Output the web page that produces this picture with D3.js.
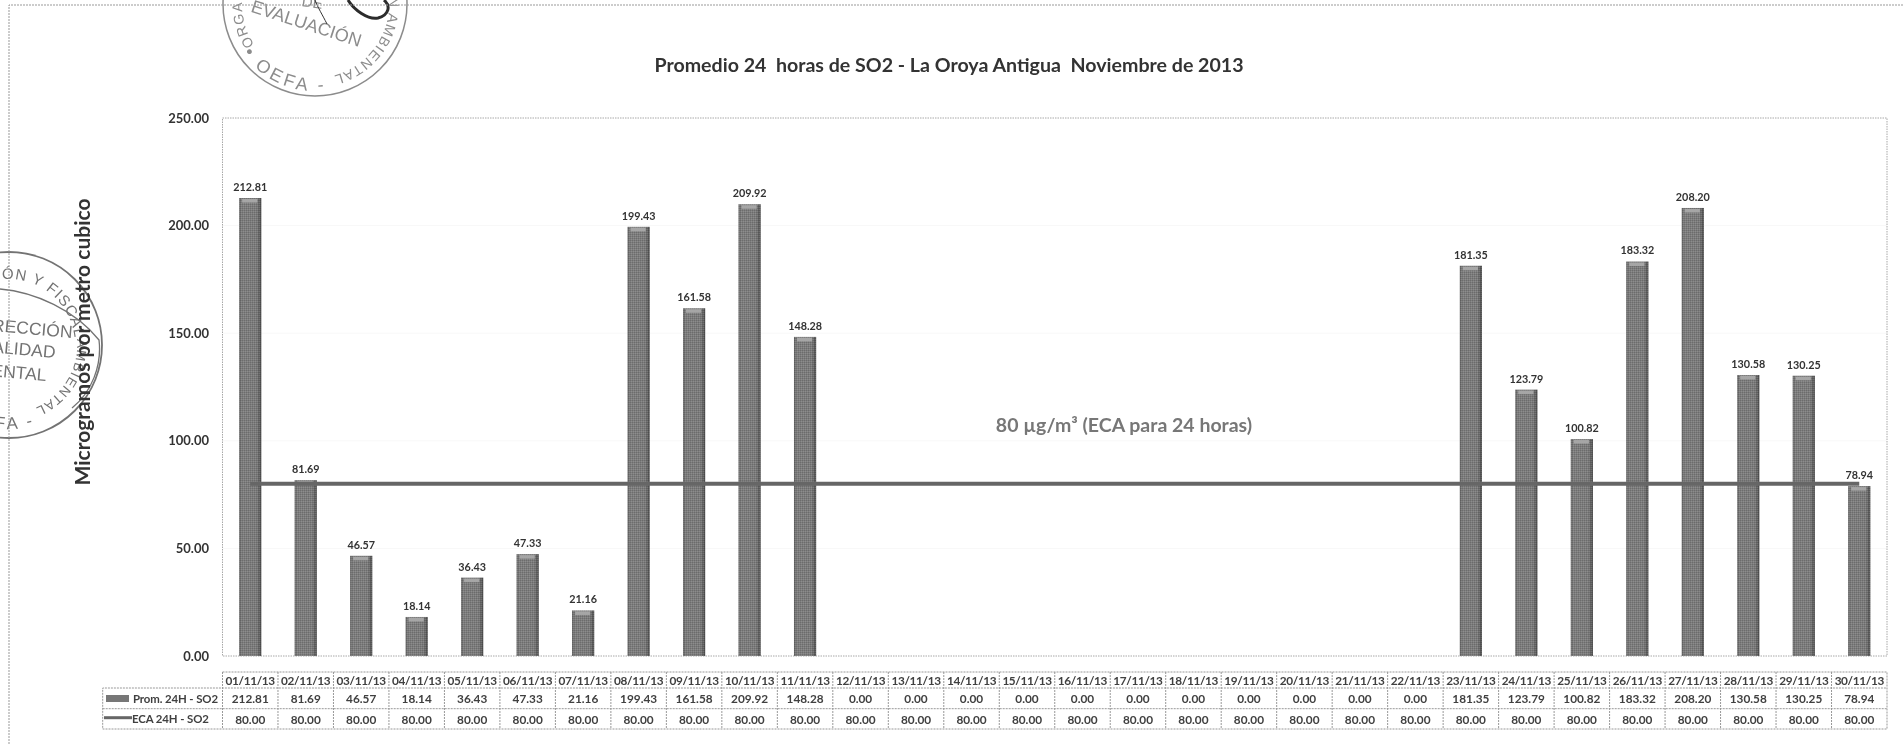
<!DOCTYPE html>
<html>
<head>
<meta charset="utf-8">
<script src="https://cdnjs.cloudflare.com/ajax/libs/d3/7.8.5/d3.min.js"></script>
<style>
  html, body { margin: 0; padding: 0; background: #fff; overflow: hidden; }
  svg { display: block; font-family: Lato, sans-serif; filter: blur(0.35px); }
</style>
</head>
<body>
<svg id="chart" width="1903" height="744"></svg>
<script>
// chart values
const dates = ["01/11/13","02/11/13","03/11/13","04/11/13","05/11/13","06/11/13","07/11/13","08/11/13","09/11/13","10/11/13",
    "11/11/13","12/11/13","13/11/13","14/11/13","15/11/13","16/11/13","17/11/13","18/11/13","19/11/13","20/11/13",
    "21/11/13","22/11/13","23/11/13","24/11/13","25/11/13","26/11/13","27/11/13","28/11/13","29/11/13","30/11/13"];
const prom_so2 = [212.81,81.69,46.57,18.14,36.43,47.33,21.16,199.43,161.58,209.92,
    148.28,0,0,0,0,0,0,0,0,0,
    0,0,181.35,123.79,100.82,183.32,208.20,130.58,130.25,78.94];
const eca_so2 = [80,80,80,80,80,80,80,80,80,80,80,80,80,80,80,80,80,80,80,80,80,80,80,80,80,80,80,80,80,80];
const y_ticks = [0,50,100,150,200,250];

const title_text = "Promedio 24  horas de SO2 - La Oroya Antigua  Noviembre de 2013";
const y_title = "Microgramos por metro cubico";
const eca_note = "80 µg/m³ (ECA para 24 horas)";
const prom_label = "Prom. 24H - SO2";
const eca_label = "ECA 24H - SO2";

// colors
const text_dark = "#333333";
const grid_grey = "#a8a8a8";
const bar_grey = "#777777";
const line_grey = "#666666";
const table_text = "#404040";

const svg = d3.select("#chart");
const margins = {top: 118, right: 1887, bottom: 656, left: 222.5};

// bars are 22px wide in a 55.5px column
const xScale = d3.scaleBand().domain(dates).range([margins.left, margins.right])
    .paddingInner(0.6).paddingOuter(0.3);
const yScale = d3.scaleLinear().domain([0, 250]).range([margins.bottom, margins.top]);
const center = d => xScale(d) + xScale.bandwidth() / 2;
const col_width = xScale.step();

// gradient and stipple for the scanned 3d bars
const defs = svg.append("defs");
const gradient = defs.append("linearGradient").attr("id", "bar-fill");
gradient.append("stop").attr("offset", "0").attr("stop-color", "#666");
gradient.append("stop").attr("offset", "0.12").attr("stop-color", "#7d7d7d");
gradient.append("stop").attr("offset", "0.8").attr("stop-color", "#7b7b7b");
gradient.append("stop").attr("offset", "1").attr("stop-color", "#4c4c4c");
const stipple = defs.append("pattern").attr("id", "stipple")
    .attr("width", 2).attr("height", 2).attr("patternUnits", "userSpaceOnUse");
stipple.append("rect").attr("width", 1).attr("height", 1).attr("fill", "#000").attr("opacity", 0.13);
stipple.append("rect").attr("x", 1).attr("y", 1).attr("width", 1).attr("height", 1).attr("fill", "#fff").attr("opacity", 0.13);

// ---- stamps, drawn first so the chart sits on top of them ----
function ring_path(id, cx, cy, r, from_deg, to_deg) {
    // angles from twelve o'clock, growing clockwise
    const p = deg => [cx + r * Math.sin(deg * Math.PI / 180), cy - r * Math.cos(deg * Math.PI / 180)];
    const [x0, y0] = p(from_deg), [x1, y1] = p(to_deg);
    const large = Math.abs(to_deg - from_deg) > 180 ? 1 : 0;
    const sweep = to_deg > from_deg ? 1 : 0;
    defs.append("path").attr("id", id)
        .attr("d", `M${x0},${y0} A${r},${r} 0 ${large} ${sweep} ${x1},${y1}`);
}

function ring_text(id, txt, size, spacing, color, at_end) {
    svg.append("text")
        .attr("font-family", "Liberation Sans")
        .attr("font-size", size)
        .attr("letter-spacing", spacing)
        .attr("fill", color)
        .attr("text-anchor", at_end ? "end" : "start")
        .append("textPath").attr("href", "#" + id)
        .attr("startOffset", at_end ? "100%" : "0%")
        .text(txt);
}

function flat_text(txt, x, y, angle, size, color) {
    svg.append("text")
        .attr("transform", `translate(${x},${y}) rotate(${angle})`)
        .attr("font-family", "Liberation Sans")
        .attr("font-size", size)
        .attr("fill", color)
        .attr("text-anchor", "end")
        .text(txt);
}

// top stamp
const stamp_top = "#8c8c8c";
svg.append("circle").attr("cx", 315).attr("cy", 4).attr("r", 92)
    .attr("fill", "none").attr("stroke", stamp_top).attr("stroke-width", 1.5);
ring_path("top-left", 315, 4, 73, 236, 350);
ring_text("top-left", "ORGANISMO", 14, 1.2, stamp_top, false);
ring_path("top-right", 315, 4, 74, 60, 166);
ring_text("top-right", "ÓN AMBIENTAL", 14, 1.2, stamp_top, true);
ring_path("top-bottom", 315, 4, 87, 236, 165);
ring_text("top-bottom", "• OEFA -", 18, 3.5, stamp_top, false);
flat_text("EVALUACIÓN", 359, 47, 18, 18, stamp_top);
flat_text("DE", 322, 9, 8, 15, stamp_top);
// signature over the top stamp
svg.append("path").attr("fill", "none").attr("stroke", "#333").attr("stroke-width", 1)
    .attr("d", "M315,0 C318,8 322,14 327,24");
svg.append("path").attr("fill", "none").attr("stroke", "#2c2c2c").attr("stroke-width", 3)
    .attr("d", "M348,0 C354,10 368,20 378,18 C389,15 391,6 384,0");

// left stamp
const stamp_left = "#737373";
svg.append("circle").attr("cx", 9).attr("cy", 345).attr("r", 93)
    .attr("fill", "none").attr("stroke", stamp_left).attr("stroke-width", 1.8);
svg.append("path").attr("fill", "none").attr("stroke", stamp_left).attr("stroke-width", 1.3)
    .attr("d", "M0,289 C35,292 75,310 99,340 C102,365 92,392 72,408");
ring_path("left-top", 9, 345, 66, -6, 82);
ring_text("left-top", "ÓN Y FISCALIZACIÓN", 15, 1, stamp_left, false);
ring_path("left-bottom", 9, 345, 68, 85, 178);
ring_text("left-bottom", "AMBIENTAL", 13.5, 1.2, stamp_left, false);
ring_path("left-foot", 9, 345, 84, 190, 150);
ring_text("left-foot", "FA -", 17, 3, stamp_left, false);
flat_text("RECCIÓN", 72, 338, 5, 17.5, stamp_left);
flat_text("ALIDAD", 55, 358, 5, 17.5, stamp_left);
flat_text("ENTAL", 46, 381, 5, 17.5, stamp_left);

// ---- page frame ----
svg.append("path").attr("fill", "none").attr("stroke", "#999").attr("stroke-dasharray", "2 1")
    .attr("d", "M9,744 V5 H1903");

// ---- plot ----
svg.append("g").selectAll("line").data(y_ticks.slice(1, 5)).join("line")
    .attr("x1", margins.left).attr("x2", margins.right)
    .attr("y1", d => yScale(d)).attr("y2", d => yScale(d))
    .attr("stroke", "#f8f8f8");

svg.append("rect")
    .attr("x", margins.left).attr("y", margins.top)
    .attr("width", margins.right - margins.left).attr("height", margins.bottom - margins.top)
    .attr("fill", "none").attr("stroke", grid_grey).attr("stroke-dasharray", "1.5 1");

const yAxisGenerator = d3.axisLeft(yScale).tickValues(y_ticks).tickSize(0).tickPadding(13.5)
    .tickFormat(d3.format(".2f"));
const yAxis = svg.append("g").attr("transform", `translate(${margins.left},0)`).call(yAxisGenerator);
yAxis.select(".domain").remove();
yAxis.selectAll("text")
    .attr("font-family", "Lato, sans-serif")
    .attr("font-size", 13)
    .attr("font-weight", 700)
    .attr("fill", text_dark);

// only days with a reading get a bar and a label
const drawn = dates.map((d, i) => ({date: d, value: prom_so2[i]})).filter(d => d.value > 0);
const bars = svg.append("g").selectAll("g").data(drawn).join("g");
bars.append("rect")
    .attr("x", d => xScale(d.date)).attr("y", d => yScale(d.value))
    .attr("width", xScale.bandwidth()).attr("height", d => yScale(0) - yScale(d.value))
    .attr("fill", "url(#bar-fill)");
bars.append("rect")
    .attr("x", d => xScale(d.date)).attr("y", d => yScale(d.value))
    .attr("width", xScale.bandwidth()).attr("height", d => yScale(0) - yScale(d.value))
    .attr("fill", "url(#stipple)");
// light cap on the top of each bar
bars.append("rect")
    .attr("x", d => xScale(d.date) + 3).attr("y", d => yScale(d.value) + 1)
    .attr("width", xScale.bandwidth() - 7).attr("height", 3.5)
    .attr("fill", "#a6a6a6");
bars.append("text")
    .attr("x", d => center(d.date)).attr("y", d => yScale(d.value) - 7)
    .attr("text-anchor", "middle")
    .attr("font-size", 10.8)
    .attr("font-weight", 700)
    .attr("fill", text_dark)
    .text(d => d.value.toFixed(2));

// the limit line runs from the first to the last day
const line_generator = d3.line().x((d, i) => center(dates[i])).y(d => yScale(d));
svg.append("path")
    .attr("d", line_generator(eca_so2))
    .attr("fill", "none").attr("stroke", line_grey).attr("stroke-width", 4);

// ---- titles ----
svg.append("text").attr("x", 949).attr("y", 72).attr("text-anchor", "middle")
    .attr("font-size", 19.6).attr("font-weight", 700).attr("fill", "#333")
    .style("white-space", "pre").text(title_text);
svg.append("text").attr("x", 1124).attr("y", 432).attr("text-anchor", "middle")
    .attr("font-size", 19.5).attr("font-weight", 700).attr("fill", "#777").text(eca_note);
svg.append("text").attr("transform", "translate(90,342) rotate(-90)").attr("text-anchor", "middle")
    .attr("font-size", 21).attr("font-weight", 700).attr("fill", "#333").text(y_title);

// ---- data table ----
const row_y = [672, 688, 708.7, 729];
const table = svg.append("g");
const table_left = 102.7;
const cell_line = sel => sel.attr("fill", "none").attr("stroke", "#999").attr("stroke-dasharray", "2 1");

table.append("path").call(cell_line)
    .attr("d", `M${margins.left},${row_y[0]} H${margins.right} V${row_y[3]} H${table_left} V${row_y[1]} H${margins.right}`);
table.append("path").call(cell_line)
    .attr("d", `M${table_left},${row_y[2]} H${margins.right}`);
table.selectAll("line.col").data(d3.range(0, dates.length)).join("line")
    .attr("class", "col")
    .call(cell_line)
    .attr("x1", d => margins.left + d * col_width).attr("x2", d => margins.left + d * col_width)
    .attr("y1", row_y[0]).attr("y2", row_y[3]);

const cell_text = (values, fmt, y, spacing) => table.append("g").selectAll("text").data(values).join("text")
    .attr("x", (d, i) => center(dates[i])).attr("y", y)
    .attr("text-anchor", "middle")
    .attr("font-size", 11.8)
    .attr("font-weight", 700)
    .attr("letter-spacing", spacing)
    .attr("fill", table_text)
    .text(fmt);

cell_text(dates, d => d, 684.5, -0.35);
cell_text(prom_so2, d => d.toFixed(2), 703, 0);
cell_text(eca_so2, d => d.toFixed(2), 723.5, 0);

// legend keys inside the table
table.append("rect").attr("x", 106).attr("y", 695).attr("width", 23).attr("height", 7).attr("fill", bar_grey);
table.append("line").attr("x1", 104).attr("x2", 132).attr("y1", 717.7).attr("y2", 717.7)
    .attr("stroke", line_grey).attr("stroke-width", 3);
table.append("text").attr("x", 133).attr("y", 703).attr("font-size", 11.4).attr("font-weight", 700)
    .attr("letter-spacing", -0.1).attr("fill", table_text).text(prom_label);
table.append("text").attr("x", 132).attr("y", 723).attr("font-size", 11.4).attr("font-weight", 700)
    .attr("letter-spacing", -0.1).attr("fill", table_text).text(eca_label);
</script>
</body>
</html>
